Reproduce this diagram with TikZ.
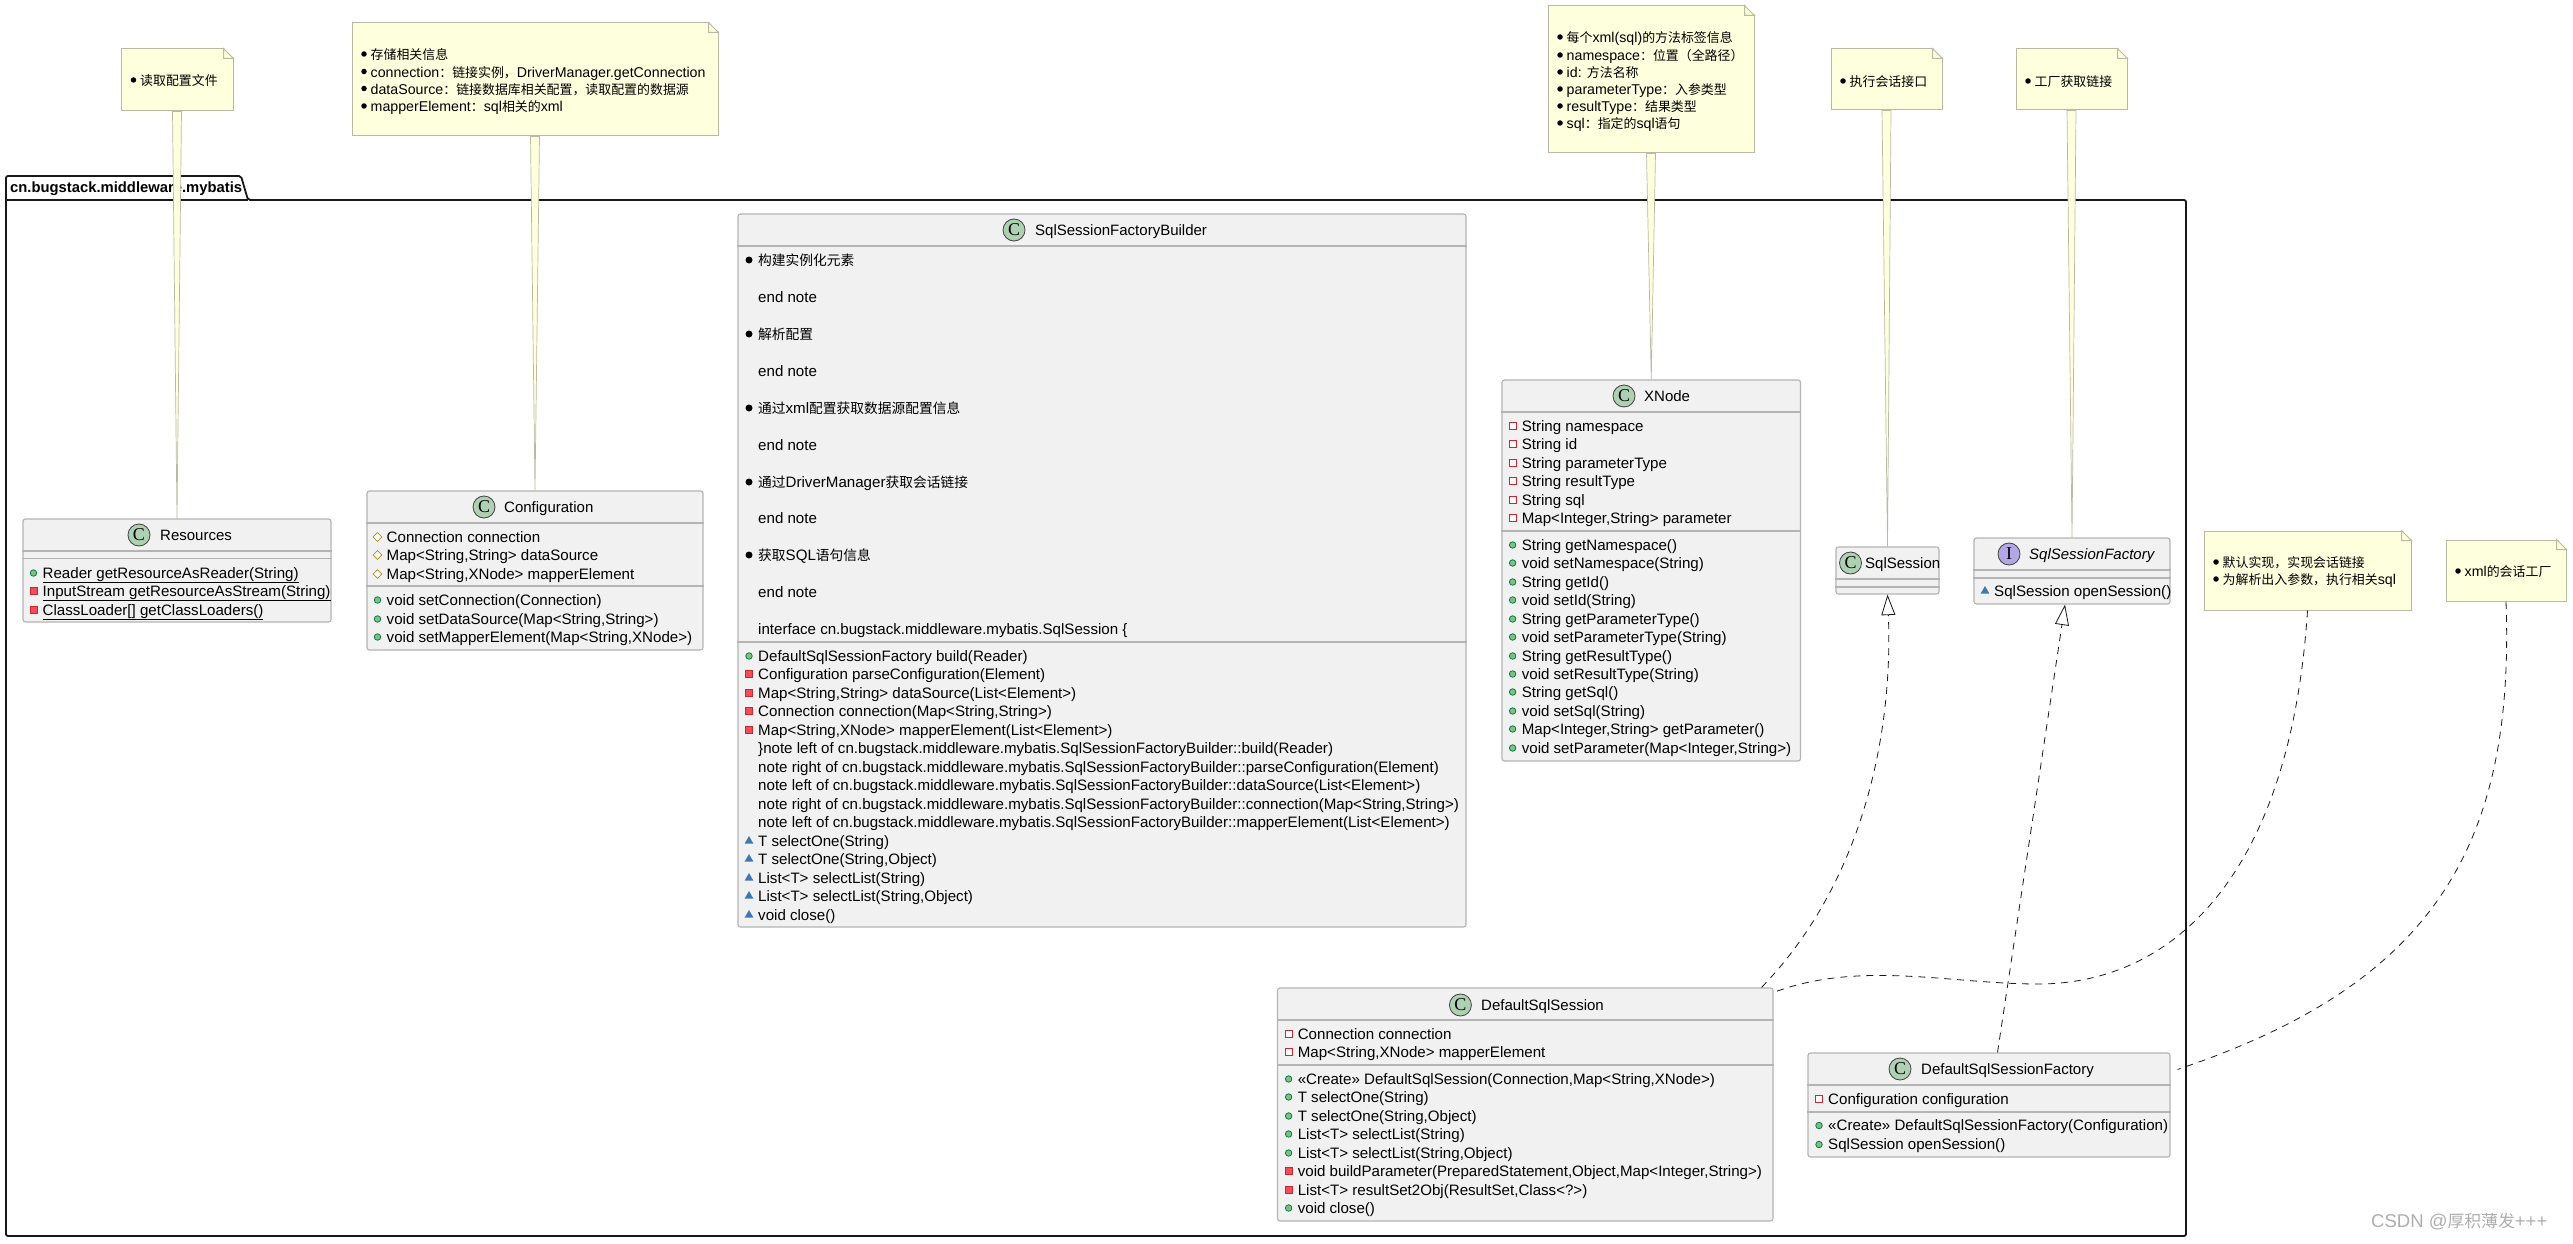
\documentclass[tikz,border=0pt]{standalone}
\usepackage{fontspec}
\setmainfont{Liberation Sans}
\newfontfamily\cjk[Scale=0.91]{Noto Sans CJK SC}
\newfontfamily\badgefont{Liberation Serif}
\definecolor{BoxFill}{HTML}{F1F1F1}
\definecolor{BoxLine}{HTML}{B4B4B4}
\definecolor{NoteFill}{HTML}{FEFFDD}
\definecolor{NoteLine}{HTML}{B9B9A4}
\definecolor{BadgeGreen}{HTML}{ADD1B2}
\definecolor{BadgePurple}{HTML}{B4A7E5}
\definecolor{PubGreen}{HTML}{84BE84}
\definecolor{PubLine}{HTML}{038048}
\definecolor{PrivRed}{HTML}{F24D5C}
\definecolor{PrivLine}{HTML}{C82930}
\definecolor{ProtGold}{HTML}{B38D22}
\definecolor{PkgBlue}{HTML}{4177AF}
\usetikzlibrary{
    shapes.geometric,
    arrows.meta,
    calc,
    fit,
}
\tikzset{
    classbox/.style={draw=BoxLine, fill=BoxFill, line width=1.2pt, rounded corners=2.5pt, inner sep=0pt},
    notebox/.style={draw=NoteLine, fill=NoteFill, line width=1pt, inner sep=0pt},
    notetail/.style={draw=NoteLine, fill=NoteFill, line width=.7pt, line join=round},
    classsep/.style={draw=BoxLine, line width=1.2pt},
    badge/.style={circle, draw=black!75, line width=.8pt, minimum size=22pt, inner sep=0pt, font=\badgefont\fontsize{18}{18}\selectfont},
    classname/.style={anchor=mid west, inner sep=0pt, yshift=-3pt, font=\fontsize{15}{18}\selectfont},
    member/.style={anchor=mid west, inner sep=0pt, yshift=-2.5pt, font=\fontsize{15.1}{18}\selectfont},
    notetext/.style={anchor=mid west, inner sep=0pt, yshift=-3pt, font=\fontsize{14.2}{17}\selectfont},
    notedot/.style={circle, fill=black, minimum size=5.5pt, inner sep=0pt},
    vpub/.style={circle, draw=PubLine, fill=PubGreen, line width=.8pt, minimum size=6.5pt, inner sep=0pt},
    vpriv/.style={rectangle, draw=PrivLine, fill=PrivRed, line width=.8pt, minimum size=7pt, inner sep=0pt},
    vprivf/.style={rectangle, draw=PrivLine, fill=white, line width=.8pt, minimum size=7pt, inner sep=0pt},
    vprot/.style={diamond, draw=ProtGold, fill=white, line width=.8pt, minimum size=9pt, inner sep=0pt},
    vpkg/.style={regular polygon, regular polygon sides=3, fill=PkgBlue, minimum size=10pt, inner sep=0pt},
    vdot/.style={circle, fill=black, minimum size=7pt, inner sep=0pt},
    vnone/.style={inner sep=0pt},
    realize/.style={draw=black!90, line width=.8pt, dash pattern=on 7pt off 6pt, -{Triangle[length=20.5pt, width=14pt, fill=white]}},
    notelink/.style={draw=black!90, line width=.8pt, dash pattern=on 7pt off 6pt},
}
\newcommand{\zh}[1]{{\cjk #1}}
\newcommand{\memberrows}[3]{%
    \foreach \ypos/\vis/\txt [count=\k] in {#3} {
        \node[\vis] (#1-v\k) at (#2,\ypos) {};
        \node[member] (#1-t\k) at (#2+9,\ypos) {\txt};
    }%
}
\newcommand{\noterows}[3]{%
    \foreach \ypos/\txt [count=\k] in {#3} {
        \node[notedot] (#1-v\k) at (#2,\ypos) {};
        \node[notetext] (#1-t\k) at (#2+6.5,\ypos) {\txt};
    }%
}
\begin{document}
\begin{tikzpicture}[x=1pt, y=-1pt]
    \useasboundingbox (0,0) rectangle (2573,1244);
    % package frame
    \draw[line width=1.8pt, black!90, line join=round, rounded corners=2pt, fill=white] (6,200) -- (6,176) -- (241,176) -- (248,200) -- (2186,200) -- (2186,1236) -- (6,1236) -- cycle;
    \draw[line width=1.8pt, black!90] (6,200) -- (248,200);
    \node[anchor=mid west, inner sep=0pt, yshift=-2.5pt, font=\bfseries\fontsize{14.8}{18}\selectfont] (PkgName) at (10,187) {cn.bugstack.middleware.mybatis};

    % boxes
    \node[classbox, fit={(23,519) (331,622)}] (Resources) {};
    \node[classbox, fit={(367,491) (703,650)}] (Configuration) {};
    \node[classbox, fit={(738,214) (1466,927)}] (Builder) {};
    \node[classbox, fit={(1502,380) (1800.5,761)}] (XNode) {};
    \node[classbox, fit={(1836,547) (1939,594)}] (SqlSession) {};
    \node[classbox, fit={(1974,538) (2170,604)}] (SqlSessionFactory) {};
    \node[classbox, fit={(1277.5,988) (1773,1221)}] (DefaultSqlSession) {};
    \node[classbox, fit={(1808,1053) (2170,1157)}] (DefaultFactory) {};

    % notes
    \node[notebox, fit={(121,49) (233,111)}] (NoteRes) {};
    \node[notebox, fit={(352,23) (718,136)}] (NoteCfg) {};
    \node[notebox, fit={(1548,6) (1754,153)}] (NoteXNode) {};
    \node[notebox, fit={(1831,49) (1942,110)}] (NoteSession) {};
    \node[notebox, fit={(2016,49) (2127,110)}] (NoteFactory) {};
    \node[notebox, fit={(2204,531) (2411,610)}] (NoteDefault) {};
    \node[notebox, fit={(2446,540) (2566,601.5)}] (NoteXml) {};
    \foreach \nt/\cname in {NoteRes/Resources, NoteCfg/Configuration, NoteXNode/XNode, NoteSession/SqlSession, NoteFactory/SqlSessionFactory} {
        \draw[notetail] ($(\nt.south)+(-4.5,0)$) -- (\cname.north) -- ($(\nt.south)+(4.5,0)$) -- cycle;
    }
    \foreach \nt in {NoteRes, NoteCfg, NoteXNode, NoteSession, NoteFactory, NoteDefault, NoteXml} {
        \fill[white] ($(\nt.north east)+(1,-1)$) -- ++(-11,0) -- ++(11,11) -- cycle;
        \draw[NoteLine, line width=1pt, fill=NoteFill] (\nt.north east) ++(-10,0) -- ++(10,10) -- ++(-10,0) -- cycle;
    }

    % compartment lines
    \foreach \cname/\ypos in {Resources/551, Resources/558.5, Configuration/523, Configuration/586, Builder/246, Builder/642, XNode/412, XNode/531, SqlSession/579, SqlSession/587, SqlSessionFactory/570, SqlSessionFactory/578, DefaultSqlSession/1020, DefaultSqlSession/1065, DefaultFactory/1085, DefaultFactory/1112} {
        \draw[classsep] (\cname.west |- 0,\ypos) -- (\cname.east |- 0,\ypos);
    }

    % headers
    \foreach \cname/\cx/\cy/\tx/\label in {Resources/139/535/160/Resources, Configuration/484/507/504/Configuration, Builder/1014/230/1035/SqlSessionFactoryBuilder, XNode/1624/396/1644/XNode, SqlSession/1850.5/563/1865/SqlSession, DefaultSqlSession/1460.4/1005/1481/DefaultSqlSession, DefaultFactory/1900/1069/1921/DefaultSqlSessionFactory} {
        \node[badge, fill=BadgeGreen] (\cname-badge) at (\cx,\cy) {C};
        \node[classname] (\cname-title) at (\tx,\cy) {\label};
    }
    \node[badge, fill=BadgePurple] (SqlSessionFactory-badge) at (2009,554) {I};
    \node[classname, font=\itshape\fontsize{15}{18}\selectfont] (SqlSessionFactory-title) at (2029,554) {SqlSessionFactory};

    % members
    \memberrows{Resources}{33.5}{573/vpub/\underline{Reader getResourceAsReader(String)}, 591/vpriv/\underline{InputStream getResourceAsStream(String)}, 610/vpriv/\underline{ClassLoader[] getClassLoaders()}}
    \memberrows{Configuration}{377.5}{537/vprot/Connection connection, 555/vprot/{Map<String,String> dataSource}, 574/vprot/{Map<String,XNode> mapperElement}, 600/vpub/void setConnection(Connection), 619/vpub/{void setDataSource(Map<String,String>)}, 637/vpub/{void setMapperElement(Map<String,XNode>)}}
    \memberrows{Builder}{749}{
        260/vdot/\zh{构建实例化元素}, 297/vnone/end note,
        334/vdot/\zh{解析配置}, 371/vnone/end note,
        408/vdot/{\zh{通过}xml\zh{配置获取数据源配置信息}}, 445/vnone/end note,
        482/vdot/{\zh{通过}DriverManager\zh{获取会话链接}}, 518/vnone/end note,
        555/vdot/{\zh{获取}SQL\zh{语句信息}}, 592/vnone/end note,
        629/vnone/interface cn.bugstack.middleware.mybatis.SqlSession \{,
        656/vpub/DefaultSqlSessionFactory build(Reader),
        674/vpriv/Configuration parseConfiguration(Element),
        693/vpriv/{Map<String,String> dataSource(List<Element>)},
        711/vpriv/{Connection connection(Map<String,String>)},
        730/vpriv/{Map<String,XNode> mapperElement(List<Element>)},
        748/vnone/\}note left of cn.bugstack.middleware.mybatis.SqlSessionFactoryBuilder::build(Reader),
        767/vnone/note right of cn.bugstack.middleware.mybatis.SqlSessionFactoryBuilder::parseConfiguration(Element),
        785/vnone/note left of cn.bugstack.middleware.mybatis.SqlSessionFactoryBuilder::dataSource(List<Element>),
        804/vnone/{note right of cn.bugstack.middleware.mybatis.SqlSessionFactoryBuilder::connection(Map<String,String>)},
        822/vnone/note left of cn.bugstack.middleware.mybatis.SqlSessionFactoryBuilder::mapperElement(List<Element>),
        841/vpkg/T selectOne(String),
        859/vpkg/{T selectOne(String,Object)},
        878/vpkg/List<T> selectList(String),
        896/vpkg/{List<T> selectList(String,Object)},
        915/vpkg/void close()}
    \memberrows{XNode}{1512.6}{
        426/vprivf/String namespace, 444/vprivf/String id, 463/vprivf/String parameterType,
        481/vprivf/String resultType, 500/vprivf/String sql, 518/vprivf/{Map<Integer,String> parameter},
        545/vpub/String getNamespace(), 563/vpub/void setNamespace(String), 582/vpub/String getId(),
        600/vpub/void setId(String), 619/vpub/String getParameterType(), 637/vpub/void setParameterType(String),
        656/vpub/String getResultType(), 674/vpub/void setResultType(String), 692/vpub/String getSql(),
        711/vpub/void setSql(String), 729/vpub/{Map<Integer,String> getParameter()}, 748/vpub/{void setParameter(Map<Integer,String>)}}
    \memberrows{SqlSessionFactory}{1985}{591/vpkg/SqlSession openSession()}
    \memberrows{DefaultSqlSession}{1288.6}{
        1034/vprivf/Connection connection, 1052/vprivf/{Map<String,XNode> mapperElement},
        1079/vpub/{«Create» DefaultSqlSession(Connection,Map<String,XNode>)},
        1097/vpub/T selectOne(String), 1116/vpub/{T selectOne(String,Object)},
        1134/vpub/List<T> selectList(String), 1153/vpub/{List<T> selectList(String,Object)},
        1171/vpriv/{void buildParameter(PreparedStatement,Object,Map<Integer,String>)},
        1190/vpriv/{List<T> resultSet2Obj(ResultSet,Class<?>)}, 1208/vpub/void close()}
    \memberrows{DefaultFactory}{1819}{1099/vprivf/Configuration configuration, 1125.5/vpub/«Create» DefaultSqlSessionFactory(Configuration), 1144.5/vpub/SqlSession openSession()}

    % note texts
    \noterows{NoteRes}{133.5}{80/\zh{读取配置文件}}
    \noterows{NoteCfg}{364}{54/\zh{存储相关信息}, 71.5/{connection\zh{：链接实例，}DriverManager.getConnection}, 88.5/{dataSource\zh{：链接数据库相关配置，读取配置的数据源}}, 106/{mapperElement\zh{：}sql\zh{相关的}xml}}
    \noterows{NoteXNode}{1560}{37/{\zh{每个}xml(sql)\zh{的方法标签信息}}, 55/{namespace\zh{：位置（全路径）}}, 72/{id: \zh{方法名称}}, 89/{parameterType\zh{：入参类型}}, 106/{resultType\zh{：结果类型}}, 123/{sql\zh{：指定的}sql\zh{语句}}}
    \noterows{NoteSession}{1843}{81/\zh{执行会话接口}}
    \noterows{NoteFactory}{2028}{81/\zh{工厂获取链接}}
    \noterows{NoteDefault}{2216}{562/\zh{默认实现，实现会话链接}, 579/{\zh{为解析出入参数，执行相关}sql}}
    \noterows{NoteXml}{2458}{571/{xml\zh{的会话工厂}}}

    % connectors
    \draw[realize] ($(DefaultSqlSession.north east)+(-12,0)$) .. controls (1865,880) and (1893,730) .. (SqlSession.south);
    \draw[realize] (DefaultFactory.north) ++(8.5,0) -- ($(SqlSessionFactory.south)+(-7,0)$);
    \draw[notelink] (NoteDefault.south) .. controls (2290,880) and (2170,984) .. (2038,984) .. controls (1950,984) and (1860,960) .. ($(DefaultSqlSession.north east)+(0,5)$);
    \draw[notelink] (NoteXml.south) .. controls (2515,850) and (2430,985) .. ($(DefaultFactory.north east)+(7,17)$);

    \node[anchor=mid west, inner sep=0pt, text=black!32, font=\fontsize{18.5}{24}\selectfont] (Watermark) at (2371,1225) {CSDN @\zh{厚积薄发}+++};
\end{tikzpicture}
\end{document}
